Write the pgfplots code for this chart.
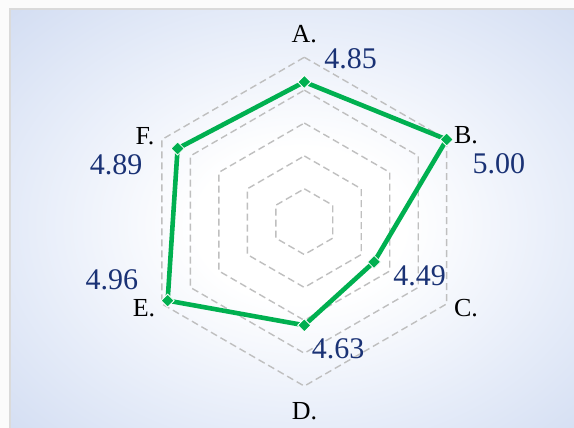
\documentclass[border=0pt]{standalone}
\usepackage{fontspec}
\setmainfont{Liberation Serif}
\usepackage{pgfplots}
\usepackage{pgfplotstable}
\pgfplotsset{compat=1.18}

\definecolor{linegreen}{HTML}{00B050}
\definecolor{valblue}{HTML}{1A3275}
\definecolor{gridgray}{HTML}{BFBFBF}
\definecolor{framegray}{HTML}{DADADA}
\definecolor{bgin}{rgb}{0.90,0.925,0.975}
\definecolor{bgmid}{rgb}{0.83,0.87,0.95}
\definecolor{bgout}{rgb}{0.76,0.82,0.93}
\pgfdeclareradialshading{bgrad}{\pgfpoint{0bp}{0bp}}{%
  color(0bp)=(white); color(9bp)=(white); color(24bp)=(bgin);
  color(35bp)=(bgmid); color(50bp)=(bgout)}

% angle of each spoke, A at the top, clockwise
\pgfplotstableread{
ang lab
90 A
30 B
-30 C
-90 D
-150 E
150 F
90 A
}\spokes

\pgfplotstableread{
ang val
90 4.85
30 5.00
-30 4.49
-90 4.63
-150 4.96
150 4.89
90 4.85
}\scores

\begin{document}
\begin{tikzpicture}[x=1pt,y=1pt]
\path[use as bounding box, fill=white!97!gray] (0,0) rectangle (574,428);
\begin{scope}
  \clip (0,0) rectangle (574,428);
  \shade[shading=bgrad] (10,-13) rectangle (590,419);
  \draw[framegray, line width=1.6pt] (10,-13) rectangle (590,419);
\end{scope}

\begin{axis}[
  at={(0pt,0pt)}, anchor=south west,
  scale only axis, width=574pt, height=428pt,
  xmin=-1.851, xmax=1.6405, ymin=-1.2549, ymax=1.3485,
  hide axis, clip=false,
  ]
  % hexagonal grid, radial scale from 4 (centre) to 5
  \pgfplotsinvokeforeach{4.2,4.4,4.6,4.8,5.0}{
    \addplot[gridgray, line width=1.4pt, dash pattern=on 7pt off 4pt, no markers]
      table[x expr={(#1-4)*cos(\thisrow{ang})}, y expr={(#1-4)*sin(\thisrow{ang})}] {\spokes};
  }
  \addplot[linegreen, line width=4.6pt, line join=miter,
    mark=square*, mark size=4.6pt,
    mark options={solid, rotate=45, fill=linegreen, draw=white, line width=0.8pt}]
    table[x expr={(\thisrow{val}-4)*cos(\thisrow{ang})}, y expr={(\thisrow{val}-4)*sin(\thisrow{ang})}] {\scores};

  \begin{scope}[every node/.style={anchor=base, font=\fontsize{26}{30}\selectfont}]
    \node at (axis cs:0,1.089) {A.};
    \node at (axis cs:0.984,0.473) {B.};
    \node at (axis cs:0.984,-0.574) {C.};
    \node at (axis cs:0.001,-1.202) {D.};
    \node at (axis cs:-0.975,-0.578) {E.};
    \node at (axis cs:-0.969,0.471) {F.};
  \end{scope}
  \begin{scope}[every node/.style={anchor=base, text=valblue, font=\fontsize{30}{34}\selectfont}]
    \node at (axis cs:0.281,0.933) {4.85};
    \node at (axis cs:1.184,0.294) {5.00};
    \node at (axis cs:0.701,-0.389) {4.49};
    \node at (axis cs:0.205,-0.831) {4.63};
    \node at (axis cs:-1.170,-0.411) {4.96};
    \node at (axis cs:-1.145,0.284) {4.89};
  \end{scope}
\end{axis}
\end{tikzpicture}
\end{document}
